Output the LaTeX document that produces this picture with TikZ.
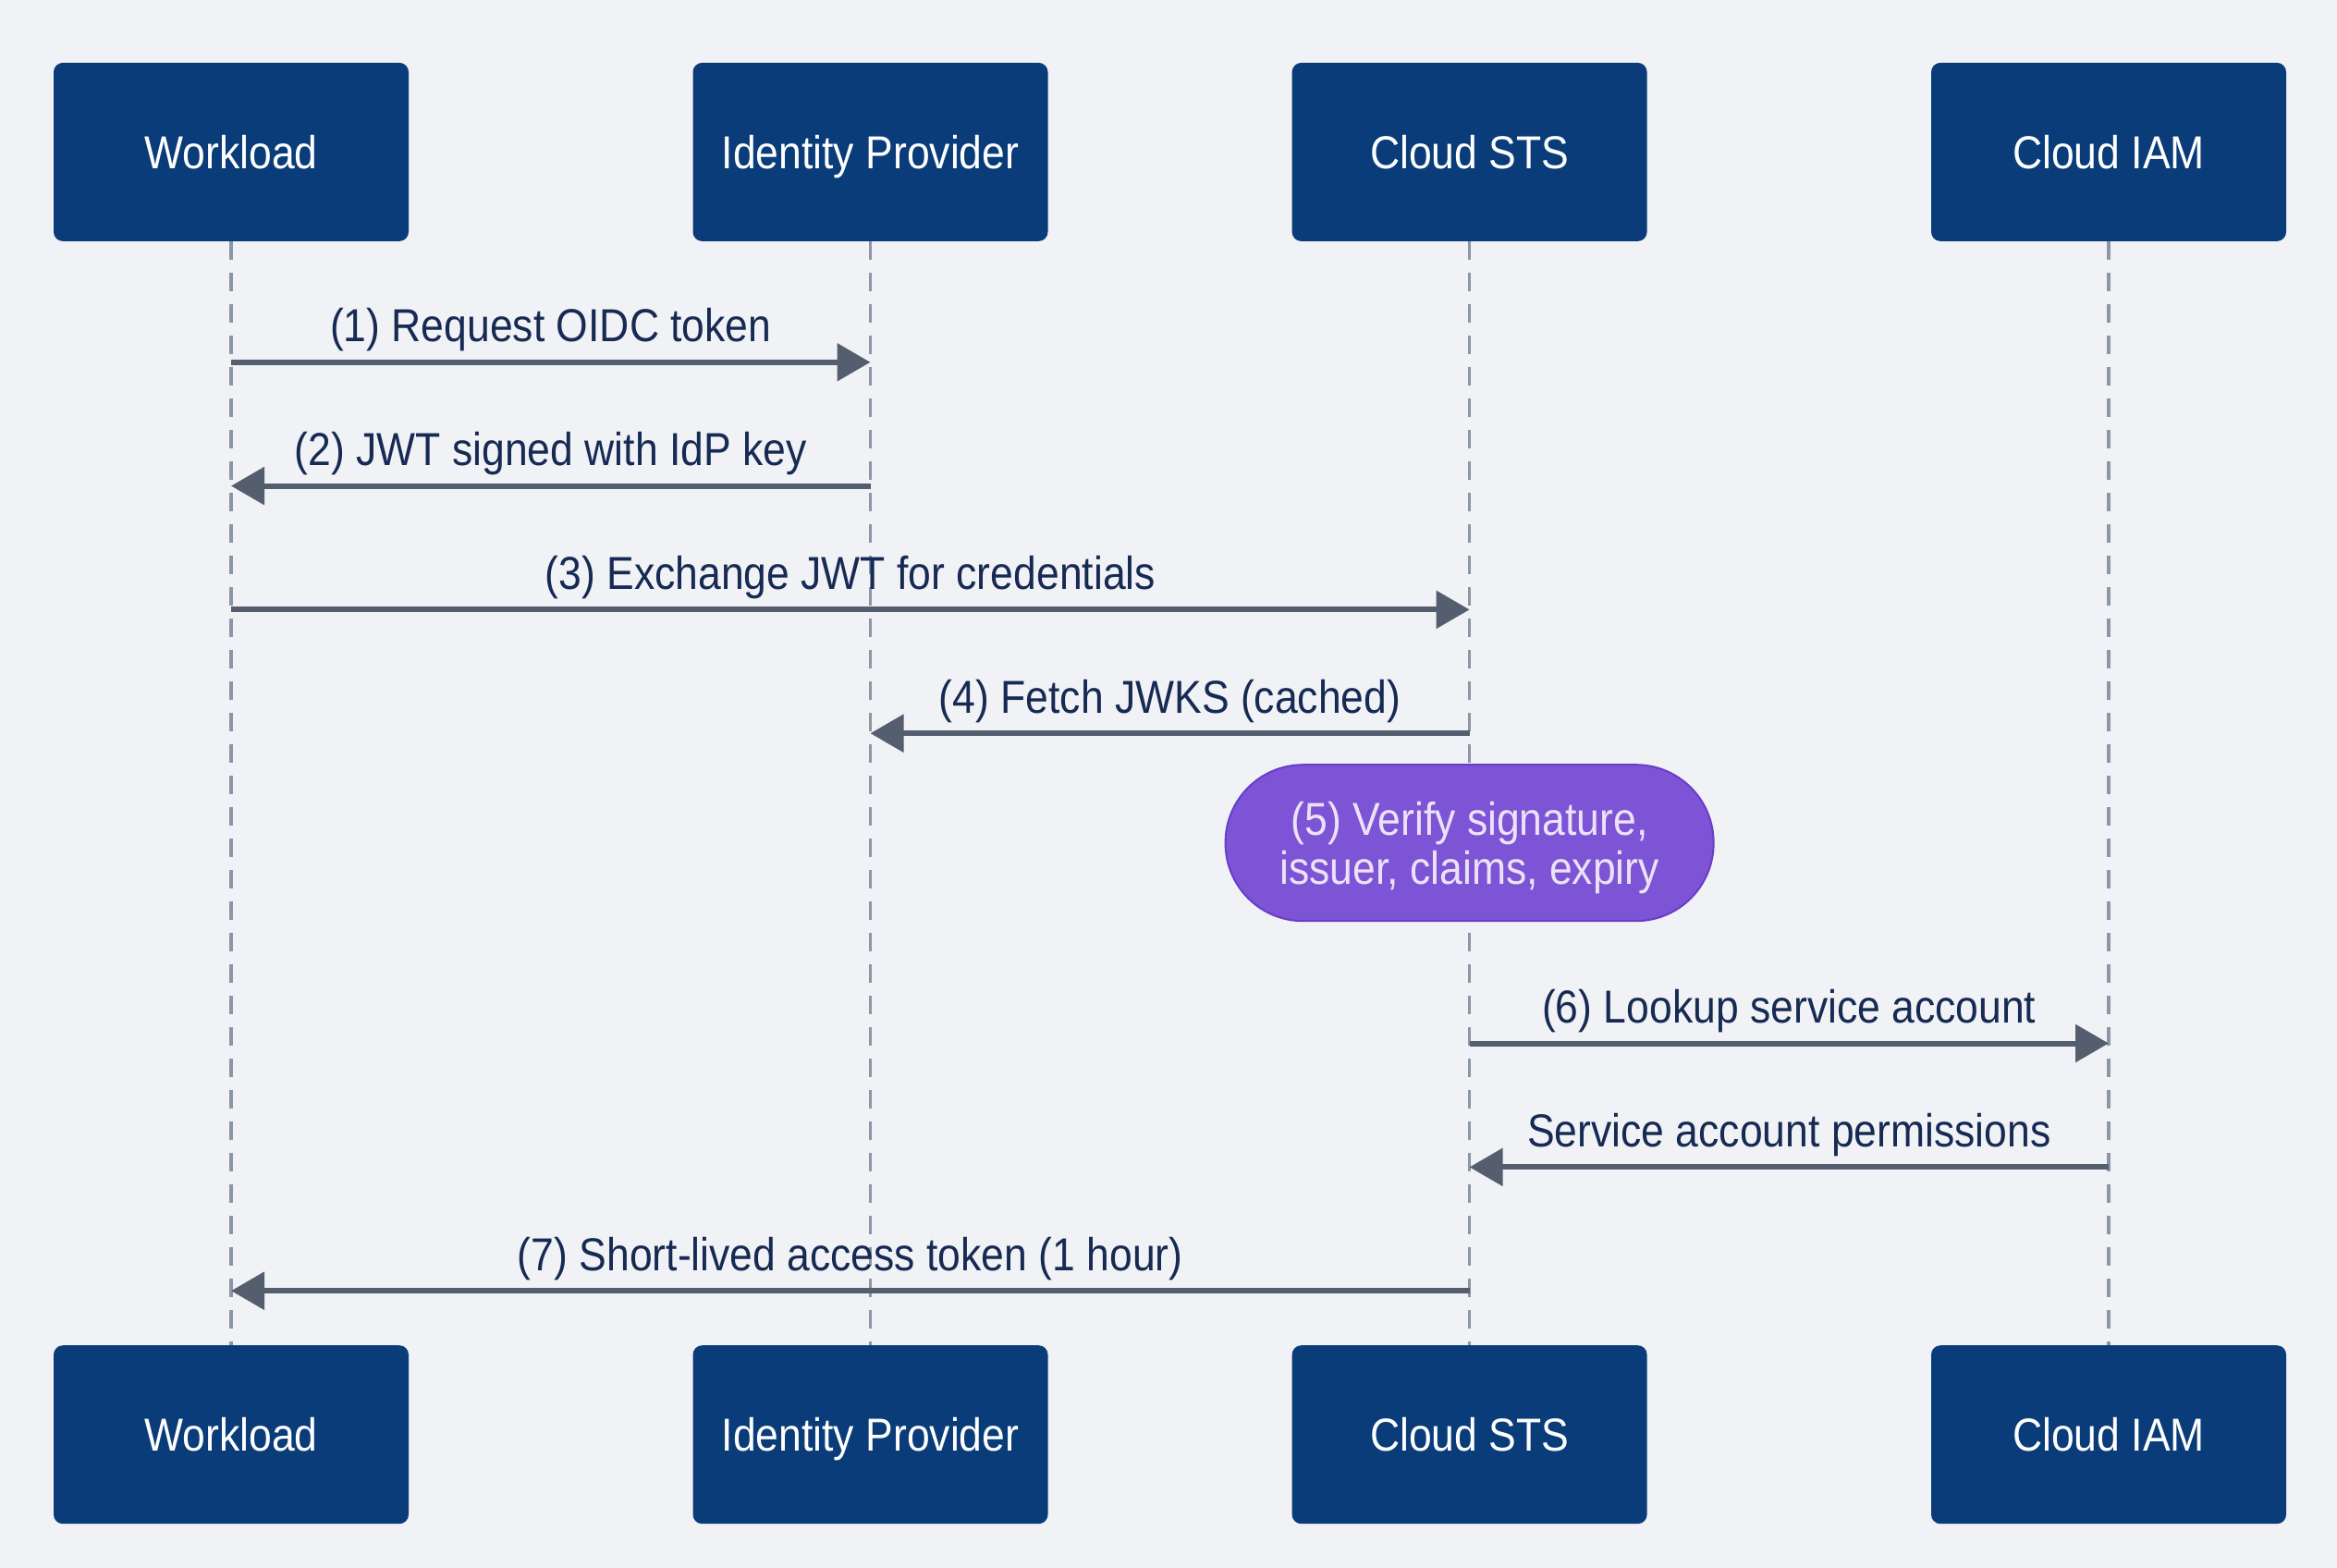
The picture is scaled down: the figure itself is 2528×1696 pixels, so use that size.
\documentclass[tikz,border=0pt]{standalone}
\usepackage{fontspec}
\setmainfont{Liberation Sans}[FakeStretch=0.89]
\usetikzlibrary{arrows.meta}
\definecolor{bg}{RGB}{241,242,245}
\definecolor{boxblue}{RGB}{9,60,121}
\definecolor{navy}{RGB}{22,42,84}
\definecolor{arrowgray}{RGB}{84,94,110}
\definecolor{lifegray}{RGB}{140,150,166}
\definecolor{purplefill}{RGB}{125,84,214}
\definecolor{purpleborder}{RGB}{104,62,200}
\definecolor{lavender}{RGB}{236,226,248}
\begin{document}
\begin{tikzpicture}[x=0.5pt,y=-0.5pt,
  actor/.style={fill=boxblue,draw=none,rounded corners=5pt,minimum width=192pt,minimum height=96.5pt,text=white,font=\fontsize{25}{30}\selectfont,inner sep=0pt,text height=18pt,text depth=0pt},
  lifeline/.style={draw=lifegray,line width=1.7pt,dash pattern=on 10pt off 7pt},
  msg/.style={draw=arrowgray,line width=3pt,-{Triangle[length=18pt,width=20pt]}},
  lbl/.style={text=navy,font=\fontsize{25}{30}\selectfont,anchor=base,inner sep=0pt},
  note/.style={fill=purplefill,draw=purpleborder,line width=1pt,rounded corners=42pt,minimum width=264pt,minimum height=84.5pt,inner sep=0pt},
  notetext/.style={text=lavender,font=\fontsize{25}{26.6}\selectfont,align=center,inner sep=0pt}]
\fill[bg] (0,0) rectangle (2528,1696);
\useasboundingbox (0,0) rectangle (2528,1696);
% top actors
\node[actor] (wlT) at (250,164.4) {Workload};
\node[actor] (idpT) at (941.5,164.4) {Identity Provider};
\node[actor] (stsT) at (1589.6,164.4) {Cloud STS};
\node[actor] (iamT) at (2281,164.4) {Cloud IAM};
% bottom actors
\node[actor] (wlB) at (250,1551.7) {Workload};
\node[actor] (idpB) at (941.5,1551.7) {Identity Provider};
\node[actor] (stsB) at (1589.6,1551.7) {Cloud STS};
\node[actor] (iamB) at (2281,1551.7) {Cloud IAM};
% lifelines
\draw[lifeline] (wlT.south) -- (wlB.north);
\draw[lifeline] (idpT.south) -- (idpB.north);
\draw[lifeline] (stsT.south) -- (stsB.north);
\draw[lifeline] (iamT.south) -- (iamB.north);
% message endpoints
\coordinate (m1a) at (250,391.8);   \coordinate (m1b) at (941.5,391.8);
\coordinate (m2a) at (941.5,525.6); \coordinate (m2b) at (250,525.6);
\coordinate (m3a) at (250,659.4);   \coordinate (m3b) at (1589.6,659.4);
\coordinate (m4a) at (1589.6,793.2);\coordinate (m4b) at (941.5,793.2);
\coordinate (m6a) at (1589.6,1128.5);\coordinate (m6b) at (2281,1128.5);
\coordinate (m6ra) at (2281,1262.4);\coordinate (m6rb) at (1589.6,1262.4);
\coordinate (m7a) at (1589.6,1396.2);\coordinate (m7b) at (250,1396.2);
% messages
\draw[msg] (m1a) -- node[lbl,yshift=11pt] (l1) {(1) Request OIDC token} (m1b);
\draw[msg] (m2a) -- node[lbl,yshift=11pt] (l2) {(2) JWT signed with IdP key} (m2b);
\draw[msg] (m3a) -- node[lbl,yshift=11pt] (l3) {(3) Exchange JWT for credentials} (m3b);
\draw[msg] (m4a) -- node[lbl,yshift=11pt] (l4) {(4) Fetch JWKS (cached)} (m4b);
\node[note] (verify) at (1589.6,911.7) {};
\node[notetext] (verifytext) at (1589.6,917) {(5) Verify signature,\\issuer, claims, expiry};
\draw[msg] (m6a) -- node[lbl,yshift=11pt] (l6) {(6) Lookup service account} (m6b);
\draw[msg] (m6ra) -- node[lbl,yshift=11pt] (l6r) {Service account permissions} (m6rb);
\draw[msg] (m7a) -- node[lbl,yshift=11pt] (l7) {(7) Short-lived access token (1 hour)} (m7b);
\end{tikzpicture}
\end{document}
